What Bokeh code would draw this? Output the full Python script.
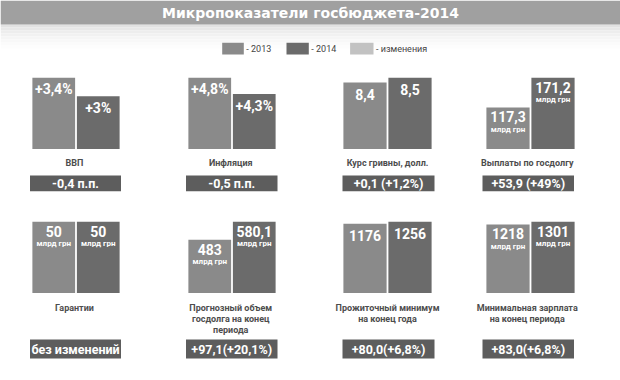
from bokeh.plotting import figure
from bokeh.models import Range1d, FactorRange
from bokeh.layouts import column, row
from bokeh.embed import file_html
from bokeh.resources import INLINE
from bokeh.core.properties import value

# ---------------- data ----------------
title_text = "Микропоказатели госбюджета-2014"
years = ["2013", "2014"]
legend_labels = ["- 2013", "- 2014", "- изменения"]

categories = [
    "ВВП",
    "Инфляция",
    "Курс гривны, долл.",
    "Выплаты по госдолгу",
    "Гарантии",
    "Прогнозный объем\nгосдолга на конец\nпериода",
    "Прожиточный минимум\nна конец года",
    "Минимальная зарплата\nна конец периода",
]
values_2013 = [3.4, 4.8, 8.4, 117.3, 50, 483, 1176, 1218]
values_2014 = [3.0, 4.3, 8.5, 171.2, 50, 580.1, 1256, 1301]
labels_2013 = ["+3,4%", "+4,8%", "8,4", "117,3", "50", "483", "1176", "1218"]
labels_2014 = ["+3%", "+4,3%", "8,5", "171,2", "50", "580,1", "1256", "1301"]
units = ["", "", "", "млрд грн", "млрд грн", "млрд грн", "", "млрд грн"]
changes = ["-0,4 п.п.", "-0,5 п.п.", "+0,1 (+1,2%)", "+53,9 (+49%)",
           "без изменений", "+97,1(+20,1%)", "+80,0(+6,8%)", "+83,0(+6,8%)"]
# lower end of each panel's value axis (the infographic does not start at zero)
axis_floor = [1.86, 2.63, 7.07, 41.8, 0, 195, -1241, -704]

# ---------------- styles ----------------
C13 = "#8a8a8a"
C14 = "#6b6b6b"
CBOX = "#5d5d5d"
CCHG = "#c2c2c2"
TITLE_BG = "#a0a0a0"
LABEL = "#4d4d4d"
NARROW = value("Roboto")
WIDE = value("DejaVu Sans")

cell_edges = [0, 155, 310, 458, 620]
bar_extent = [(31, 120), (187, 276), (342, 432), (485, 575)]
box_extent = [(29.5, 120.5), (185.5, 277), (342, 434), (482, 573.5)]


def base_fig(width, height, x_range, y_range, **kw):
    p = figure(width=width, height=height, x_range=x_range, y_range=y_range,
               toolbar_location=None, output_backend="svg",
               x_axis_location=None, y_axis_location=None,
               min_border=0, **kw)
    p.grid.visible = False
    p.outline_line_color = None
    p.background_fill_color = "white"
    p.border_fill_color = "white"
    return p


# ---------------- header ----------------
header = base_fig(620, 77, Range1d(0, 620), Range1d(77, 0))
# soft grey shading below the title band
shade = ["#e2e2e2", "#e8e8e8", "#ededed", "#f1f1f1", "#f5f5f5", "#f8f8f8", "#fbfbfb", "#fdfdfd"]
for k, c in enumerate(shade):
    header.quad(left=0, right=620, top=24 + 3 * k, bottom=27 + 3 * k,
                fill_color=c, line_color=None)
header.quad(left=0, right=620, top=0, bottom=24, fill_color=TITLE_BG, line_color=None)
header.text(x=[310], y=[12.5], text=[title_text], text_align="center",
            text_baseline="middle", text_color="white", text_font=WIDE,
            text_font_size="14px", text_font_style="bold")
sw_left = [221.7, 286, 349.6]
sw_right = [243.3, 308.3, 373]
header.quad(left=sw_left, right=sw_right, top=[42.3] * 3, bottom=[54] * 3,
            fill_color=[C13, C14, CCHG], line_color=None)
header.text(x=[r + 2.5 for r in sw_right], y=[48.5] * 3, text=legend_labels,
            text_align="left", text_baseline="middle", text_color="#444444",
            text_font=NARROW, text_font_size="9px")


# ---------------- panels ----------------
def bar_fig(i, col):
    lc, rc = cell_edges[col], cell_edges[col + 1]
    bl, br = bar_extent[col]
    top = max(values_2013[i], values_2014[i])
    p = base_fig(rc - lc, 72, FactorRange(factors=years, range_padding=0),
                 Range1d(axis_floor[i], top),
                 min_border_left=bl - lc, min_border_right=rc - br)
    vals = [values_2013[i], values_2014[i]]
    p.vbar(x=years, top=vals, bottom=axis_floor[i], width=0.96,
           fill_color=[C13, C14], line_color=None)
    labs = [labels_2013[i], labels_2014[i]]
    if units[i]:
        p.text(x=years, y=vals, text=labs, y_offset=9.5, text_align="center",
               text_baseline="middle", text_color="white", text_font=NARROW,
               text_font_size="14px", text_font_style="bold")
        p.text(x=years, y=vals, text=[units[i]] * 2, y_offset=22,
               text_align="center", text_baseline="middle", text_color="white",
               text_font=NARROW, text_font_size="8px", text_font_style="bold")
    else:
        p.text(x=years, y=vals, text=labs, y_offset=11.5, text_align="center",
               text_baseline="middle", text_color="white", text_font=NARROW,
               text_font_size="14px", text_font_style="bold")
    return p


def foot_fig(i, col, y_top, y_bottom, label_top, box_top, box_bottom):
    lc, rc = cell_edges[col], cell_edges[col + 1]
    p = base_fig(rc - lc, int(y_bottom - y_top), Range1d(lc, rc), Range1d(y_bottom, y_top))
    bl, br = box_extent[col]
    cx = (bl + br) / 2
    p.text(x=[cx - 1], y=[label_top], text=[categories[i]], text_align="center",
           text_baseline="top", text_color=LABEL, text_font=NARROW,
           text_font_size="9px", text_font_style="bold", text_line_height=1.1)
    p.quad(left=bl, right=br, top=box_top, bottom=box_bottom,
           fill_color=CBOX, line_color=None)
    p.text(x=[cx], y=[(box_top + box_bottom) / 2 + 0.5], text=[changes[i]],
           text_align="center", text_baseline="middle", text_color="white",
           text_font=NARROW, text_font_size="12.5px", text_font_style="bold")
    return p


bars1 = row(*[bar_fig(c, c) for c in range(4)])
foot1 = row(*[foot_fig(c, c, 149, 221, 157, 175, 190.7) for c in range(4)])
bars2 = row(*[bar_fig(4 + c, c) for c in range(4)])
foot2 = row(*[foot_fig(4 + c, c, 293, 375, 302.5, 339, 358) for c in range(4)])

layout = column(header, bars1, foot1, bars2, foot2)

open("out.html", "w").write(file_html(layout, INLINE, title="Микропоказатели госбюджета-2014"))
